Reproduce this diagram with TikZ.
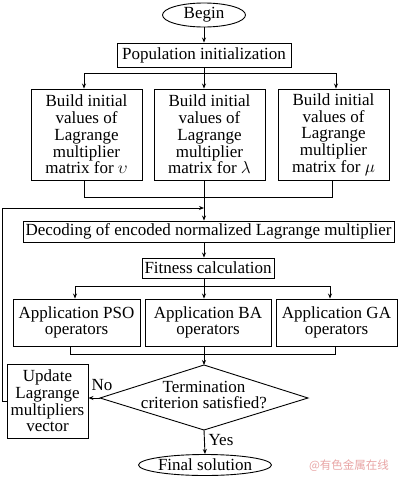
\documentclass[tikz,border=0pt]{standalone}
\usepackage{fontspec}
\setmainfont{Liberation Serif}
\newfontfamily\cjk{Noto Sans CJK SC}
\usetikzlibrary{arrows.meta,shapes.geometric}
\begin{document}
\begin{tikzpicture}[x=1pt,y=-1pt,
  every node/.style={font=\fontsize{17}{16.7}\selectfont, inner sep=0pt, align=center},
  box/.style={draw, line width=0.9pt},
  oval/.style={draw, ellipse, line width=0.9pt},
  arr/.style={-{Stealth[length=5pt,width=4pt]}},
  line width=0.9pt]
\useasboundingbox (0,0) rectangle (400,482);

\node[oval, minimum width=83pt, minimum height=24pt] (begin) at (204,15) {Begin};
\node[box, minimum width=174pt, minimum height=24pt] (pop) at (204,55) {Population initialization};
\node[box, minimum width=111pt, minimum height=91pt] (b1) at (86.5,134.5) {Build initial\\values of\\Lagrange\\multiplier\\matrix for $\upsilon$};
\node[box, minimum width=111pt, minimum height=91pt] (b2) at (209.5,134.5) {Build initial\\values of\\Lagrange\\multiplier\\matrix for $\lambda$};
\node[box, minimum width=111pt, minimum height=91pt] (b3) at (333.5,134.5) {Build initial\\values of\\Lagrange\\multiplier\\matrix for $\mu$};
\node[box, minimum width=371pt, minimum height=21pt] (dec) at (208.5,231.5) {Decoding of encoded normalized Lagrange multiplier};
\node[box, minimum width=132pt, minimum height=20pt] (fit) at (208,268) {Fitness calculation};
\node[box, minimum width=127pt, minimum height=47pt] (a1) at (76.5,322.5) {Application PSO\\operators};
\node[box, minimum width=126pt, minimum height=47pt] (a2) at (208,322.5) {Application BA\\operators};
\node[box, minimum width=121pt, minimum height=47pt] (a3) at (336.5,322.5) {Application GA\\operators};
\node[box, minimum width=81pt, minimum height=74pt] (upd) at (47.5,401) {Update\\Lagrange\\multipliers\\vector};
\coordinate (dT) at (204,365);
\coordinate (dR) at (308,398);
\coordinate (dB) at (204,430);
\coordinate (dL) at (100,398);
\draw (dT) -- (dR) -- (dB) -- (dL) -- cycle;
\node (dtext) at (204,395) {Termination\\criterion satisfied?};
\node[oval, minimum width=116pt, minimum height=21pt] (fin) at (205,465) {Final solution};
\node (no) at (102,385) {No};
\node (yes) at (221,440) {Yes};
\node[font=\cjk\fontsize{11.5}{12}\selectfont, text={rgb,255:red,232;green,165;blue,165}] (wm) at (349,466) {@有色金属在线};

% connectors
\draw[arr] (begin.south) -- (pop.north);
\coordinate (j1) at (204,73);
\coordinate (j1l) at (84,73);
\coordinate (j1r) at (336,73);
\draw (pop.south) -- (j1);
\draw (j1l) -- (j1r);
\draw[arr] (j1l) -- (j1l |- b1.north);
\draw[arr] (j1) -- (j1 |- b2.north);
\draw[arr] (j1r) -- (j1r |- b3.north);

\coordinate (m1) at (204,197);
\coordinate (m1l) at (84,197);
\coordinate (m1r) at (332,197);
\draw (b1.south -| m1l) -- (m1l) -- (m1r) -- (b3.south -| m1r);
\draw (b2.south -| m1) -- (m1);
\draw[arr] (m1) -- (dec.north -| m1);

\coordinate (fb) at (204,208);
\coordinate (fbl) at (2,208);
\draw[arr] (upd.west) -- (upd.west -| fbl) -- (fbl) -- (fb);

\draw[arr] (dec.south -| m1) -- (fit.north -| m1);

\coordinate (j2) at (204,286);
\coordinate (j2l) at (75,286);
\coordinate (j2r) at (330,286);
\draw (fit.south -| j2) -- (j2);
\draw (j2l) -- (j2r);
\draw[arr] (j2l) -- (j2l |- a1.north);
\draw[arr] (j2) -- (j2 |- a2.north);
\draw[arr] (j2r) -- (j2r |- a3.north);

\coordinate (m2) at (204,354);
\coordinate (m2l) at (70,354);
\coordinate (m2r) at (335,354);
\draw (a1.south -| m2l) -- (m2l) -- (m2r) -- (a3.south -| m2r);
\draw (a2.south -| m2) -- (m2);
\draw[arr] (m2) -- (dT);

\draw[arr] (dL) -- (dL -| upd.east);
\draw[arr] (dB) -- (fin.north);
\end{tikzpicture}
\end{document}
